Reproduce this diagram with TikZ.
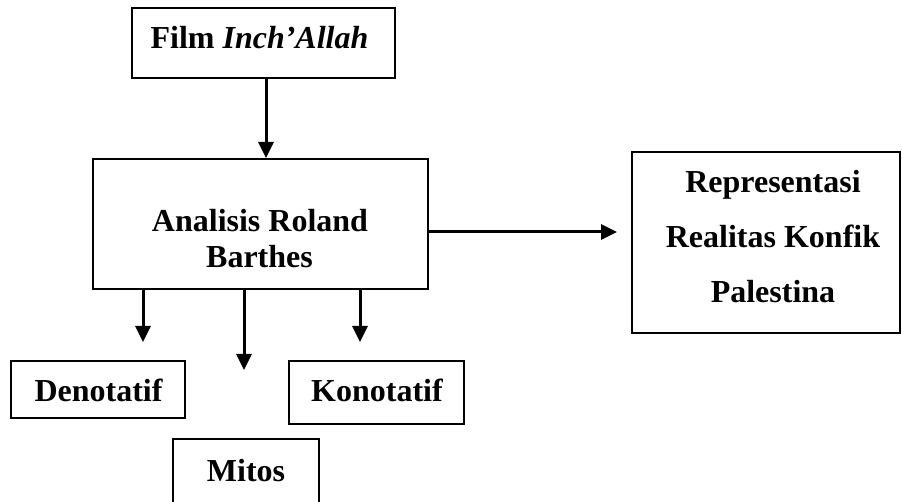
\documentclass[tikz,border=0pt]{standalone}
\usepackage{fontspec}
\setmainfont{Liberation Serif}
\usetikzlibrary{arrows.meta}
\begin{document}
\begin{tikzpicture}[x=1pt,y=-1pt,
  boxnode/.style={draw=black,line width=2pt,rectangle,inner sep=0pt},
  lbl/.style={anchor=base,inner sep=0pt,font=\fontsize{32}{36}\selectfont\bfseries},
  arr/.style={line width=3pt,-{Triangle[length=16pt,width=15pt]}}]
\useasboundingbox (0,0) rectangle (902,502);
\clip (0,0) rectangle (902,502);
% boxes
\node[boxnode,minimum width=263pt,minimum height=70pt] (film) at (263.5,43) {};
\node[boxnode,minimum width=335pt,minimum height=130pt] (ana) at (260.5,224) {};
\node[boxnode,minimum width=268pt,minimum height=181pt] (rep) at (766,242.5) {};
\node[boxnode,minimum width=174pt,minimum height=57pt] (deno) at (98,389.5) {};
\node[boxnode,minimum width=175pt,minimum height=63pt] (kono) at (376.5,392.5) {};
\node[boxnode,minimum width=146pt,minimum height=90pt] (mitos) at (246,484) {};
% texts
\node[lbl] (tfilm) at (259.5,49) {Film \textit{Inch’Allah}};
\node[lbl] (tana1) at (260,232) {Analisis Roland};
\node[lbl] (tana2) at (259.5,268) {Barthes};
\node[lbl] (trep1) at (773,193) {Representasi};
\node[lbl] (trep2) at (773,248) {Realitas Konfik};
\node[lbl] (trep3) at (773,303) {Palestina};
\node[lbl] (tdeno) at (98.5,401) {Denotatif};
\node[lbl] (tkono) at (377,401) {Konotatif};
\node[lbl] (tmitos) at (246,481) {Mitos};
% connectors
\draw[arr] (film.south -| 266,0) -- (ana.north -| 266,0);
\coordinate (ra) at (428,232);
\draw[arr,shorten >=14pt] (ra) -- (rep.west |- ra);
\coordinate (d1) at (143,342);
\coordinate (d2) at (244,370);
\coordinate (d3) at (360,342);
\draw[arr] (ana.south -| d1) -- (d1);
\draw[arr] (ana.south -| d2) -- (d2);
\draw[arr] (ana.south -| d3) -- (d3);
\end{tikzpicture}
\end{document}
